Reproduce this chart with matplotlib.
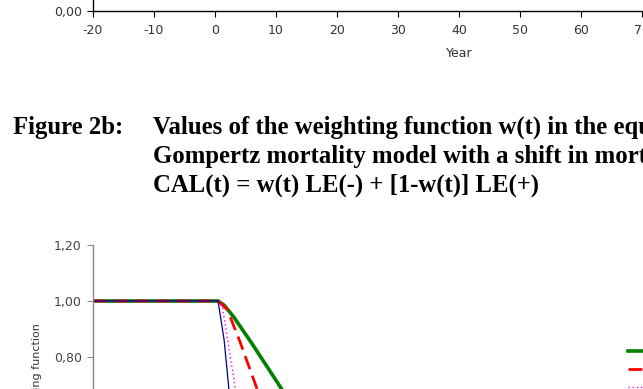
import numpy as np
import matplotlib.pyplot as plt
from matplotlib.ticker import FuncFormatter

# top chart (only its x axis is in view)
top_xticks = list(range(-20, 101, 10))
top_yticks = [0.0]

# weighting function w(t) for the four scenarios of figure 2b
t_green = [-20, 0.5, 1.5, 3, 6, 9, 12, 15, 20, 30, 40, 60]
w_green = [1.0, 1.0, 0.985, 0.945, 0.85, 0.75, 0.65, 0.56, 0.44, 0.25, 0.12, 0.03]
t_red = [-20, 0.5, 2, 4, 7, 10, 15, 25, 40]
w_red = [1.0, 1.0, 0.97, 0.86, 0.68, 0.53, 0.35, 0.15, 0.04]
t_magenta = [-20, 0.5, 1.2, 2.3, 3.4, 5, 8, 15, 30]
w_magenta = [1.0, 1.0, 0.98, 0.83, 0.68, 0.5, 0.3, 0.1, 0.01]
t_blue = [-20, 0.5, 1.5, 2.3, 3.5, 6, 10, 20]
w_blue = [1.0, 1.0, 0.86, 0.68, 0.5, 0.3, 0.1, 0.01]
labels = ["scenario 1", "scenario 2", "scenario 3", "scenario 4"]
bottom_yticks = [0.0, 0.2, 0.4, 0.6, 0.8, 1.0, 1.2]

W, H = 643, 389
plt.rcParams['font.family'] = 'DejaVu Sans'
plt.rcParams['axes.unicode_minus'] = False
fig = plt.figure(figsize=(W / 100, H / 100), dpi=100)

comma = FuncFormatter(lambda v, p: "{:.2f}".format(v).replace(".", ","))

def px(x, y):
    return x / W, 1 - y / H

# --- top chart, cut off so only the x axis shows
ax1 = fig.add_axes([93 / W, 1 - 11 / H, 732 / W, 0.4])
ax1.set_xlim(-20, 100)
ax1.set_ylim(0, 1)
ax1.set_xticks(top_xticks)
ax1.set_yticks(top_yticks)
ax1.yaxis.set_major_formatter(comma)
for s in ['top', 'right']:
    ax1.spines[s].set_visible(False)
for s in ['left', 'bottom']:
    ax1.spines[s].set_color('black')
    ax1.spines[s].set_linewidth(1)
ax1.tick_params(axis='x', direction='out', length=4, pad=5.5, labelsize=9, labelcolor='#333333')
ax1.tick_params(axis='y', direction='out', length=4, pad=4, labelsize=9, labelcolor='#333333')
ax1.set_xlabel("Year", fontsize=9, color='#333333', labelpad=7)

# --- caption
cap = dict(fontfamily='Liberation Serif', fontweight='bold', fontsize=17.8, color='black', va='baseline')
fig.text(*px(13, 134), "Figure 2b:", **cap)
fig.text(*px(153, 134), "Values of the weighting function w(t) in the equivalent", **cap)
fig.text(*px(153, 163), "Gompertz mortality model with a shift in mortality", **cap)
fig.text(*px(153, 192), "CAL(t) = w(t) LE(-) + [1-w(t)] LE(+)", **cap)

# --- bottom chart, cut off at the bottom
ax2 = fig.add_axes([93 / W, (H - 581) / H, 732 / W, 336 / H])
ax2.plot(t_green, w_green, color='#008000', lw=2.6, label=labels[0])
ax2.plot(t_red, w_red, color='#ff0000', lw=2.0, ls=(0, (5, 2.5)), label=labels[1])
ax2.plot(t_magenta, w_magenta, color='#ff00ff', lw=1.0, ls=(0, (1, 2)), label=labels[2])
ax2.plot(t_blue, w_blue, color='#000080', lw=0.9, label=labels[3])
ax2.set_xlim(-20, 100)
ax2.set_ylim(0, 1.2)
ax2.set_yticks(bottom_yticks)
ax2.yaxis.set_major_formatter(comma)
for s in ['top', 'right']:
    ax2.spines[s].set_visible(False)
for s in ['left', 'bottom']:
    ax2.spines[s].set_color('#888888')
    ax2.spines[s].set_linewidth(1)
ax2.tick_params(axis='y', direction='out', length=4, pad=4, labelsize=9, labelcolor='#444444', color='#888888')

fig.text(*px(37, 323), "Value of weighting function", rotation=90, ha='center', va='top',
         fontsize=8, color='#333333')

fig.legend(loc='upper left', bbox_to_anchor=px(628, 347), frameon=False, borderpad=0,
           borderaxespad=0, fontsize=8, labelspacing=0.72, handlelength=3)

fig.savefig('out.png', dpi=100)
